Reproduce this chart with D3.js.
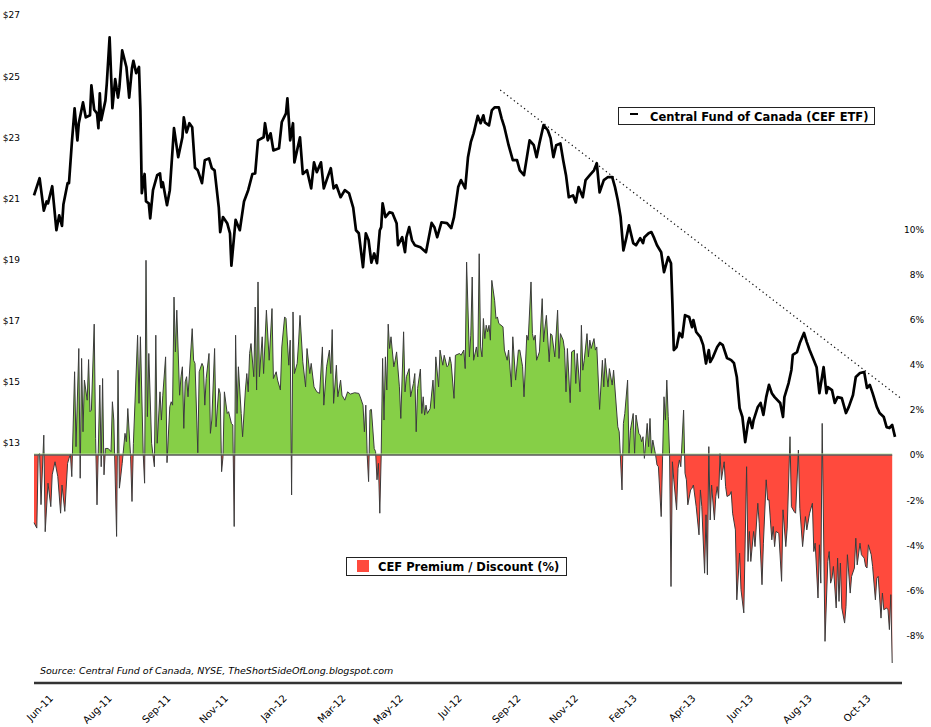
<!DOCTYPE html>
<html><head><meta charset="utf-8">
<script src="https://cdn.jsdelivr.net/npm/d3@7"></script>
<style>
html,body{margin:0;padding:0;background:#fff;}
svg{display:block;}
text{font-family:"DejaVu Sans",Verdana,sans-serif;fill:#000;}
</style></head><body>
<svg id="chart" width="931" height="727"></svg>
<script>
// ---- data (trading-day index since start of series) ----
const priceDays = [0,4,7,9,10,13,16,18,20,21,24,25,27,29,31,32,35,37,40,41,43,45,46,47,48,51,52,54,56,58,60,61,63,66,68,70,71,73,75,76,77,79,80,82,83,85,88,90,91,92,95,97,100,103,106,107,109,111,113,115,117,120,122,125,127,129,132,133,135,138,140,141,144,147,150,153,156,158,160,164,165,167,169,171,175,177,180,181,183,185,186,190,192,195,198,200,202,205,207,209,212,214,216,219,222,225,228,230,232,235,237,239,241,243,245,247,248,249,251,254,256,259,260,263,265,266,268,270,272,276,280,284,286,288,291,295,298,300,303,305,308,310,312,314,317,319,321,322,325,327,329,332,334,336,339,342,345,347,350,354,357,359,361,364,367,369,371,373,376,378,380,382,385,387,389,392,394,397,400,402,404,407,410,413,415,417,419,421,423,425,428,430,433,435,436,439,441,443,445,448,450,452,453,455,456,457,459,461,463,465,468,470,471,473,476,478,480,482,483,485,488,490,492,495,498,500,502,504,506,508,510,511,513,514,517,519,521,523,525,527,529,533,535,536,539,541,542,545,547,550,552,554,557,559,561,564,566,567,570,572,574,577,580,582,585,587,590,593,595,597,599,602,604,607,609,611,613,615];
const priceValues = [21.1,21.66,20.6,20.9,20.84,21.4,19.96,20.45,20.1,20.8,21.5,21.5,22.8,23.95,22.9,23.46,24.14,23.65,23.72,24.7,23.9,23.78,23.3,24.44,23.56,24.2,24.76,26.27,23.95,24.9,24.3,24.63,25.84,25.3,24.3,25.27,25.5,25.1,25.3,23.9,21.17,21.8,20.9,20.84,20.35,21.27,21.76,21.82,21.37,21.53,20.78,21.27,23.3,22.35,23.0,23.65,23.16,23.46,23.33,22.0,21.92,21.5,22.25,22.31,21.99,21.92,20.7,19.9,20.39,20.19,19.86,18.8,20.3,19.96,20.9,21.27,21.8,21.82,22.9,23.0,23.46,22.9,23.13,22.57,22.64,23.5,23.78,24.27,22.9,23.46,22.18,23.0,21.8,21.92,21.33,22.18,21.86,22.18,21.33,21.6,21.99,21.33,21.43,21.04,21.27,21.17,20.7,19.96,19.86,18.75,19.86,19.63,18.9,19.2,18.88,19.96,20.06,20.84,20.39,20.55,20.52,20.19,19.47,19.73,19.24,19.73,20.06,19.63,19.47,19.4,19.24,20.2,20.06,19.73,20.22,20.19,20.03,20.39,21.37,21.6,21.33,22.35,22.84,23.13,23.7,23.46,23.72,23.49,23.39,23.88,23.98,23.98,23.62,23.33,22.74,22.25,22.25,21.92,21.76,22.9,22.74,22.35,22.8,23.4,23.23,22.97,22.35,22.74,22.8,22.25,21.76,21.04,21.1,20.87,21.37,21.04,21.6,21.76,21.92,22.15,21.2,21.6,21.7,21.7,21.37,20.94,20.39,19.3,19.69,20.12,19.54,19.47,19.7,19.54,19.73,19.86,19.9,19.7,19.47,19.24,18.59,18.92,19.08,18.88,17.58,16.04,16.14,16.6,16.46,17.18,17.12,16.79,17.02,16.63,16.46,16.2,15.6,16.04,15.65,15.81,16.14,16.27,16.2,15.78,15.71,15.61,15.16,14.14,13.85,13.03,13.65,13.82,13.49,13.75,14.18,14.31,13.92,14.5,14.9,14.63,14.5,14.31,13.85,14.5,14.96,15.39,15.88,15.97,16.27,16.6,16.3,16.04,15.71,15.48,14.63,15.48,14.63,14.83,14.73,14.31,14.5,14.47,13.98,14.18,14.57,15.16,15.29,15.32,14.8,14.9,14.63,14.18,13.98,13.85,13.52,13.49,13.59,13.2];

const premiumDays = [0,2,3,4,5,7,8,10,12,13,15,17,19,20,22,24,25,26,27,29,30,32,33,34,35,36,38,39,40,41,43,44,45,47,48,49,50,51,53,55,56,57,59,60,61,63,65,66,67,69,70,71,74,75,76,78,79,80,81,82,84,86,87,88,90,91,92,94,95,97,98,99,100,101,102,104,105,106,107,108,109,110,113,114,115,117,118,120,121,122,123,125,126,127,129,130,132,133,134,135,136,138,139,141,142,143,144,145,146,148,149,151,152,153,154,155,157,158,159,160,161,163,164,166,168,170,171,173,174,176,177,179,180,182,183,184,185,186,188,189,190,192,194,195,197,198,200,202,
204,206,207,209,211,212,213,214,216,217,219,220,222,224,226,229,232,233,235,236,237,238,239,240,241,243,244,245,246,247,248,249,250,251,252,253,254,255,257,258,259,261,262,264,265,266,268,269,271,272,273,274,276,277,278,279,280,281,283,285,286,287,289,290,292,293,295,296,297,298,300,301,304,305,307,308,309,311,312,313,314,316,317,318,319,320,321,322,323,324,325,326,327,329,330,331,332,335,336,338,339,341,342,344,346,347,349,350,352,353,355,356,357,358,359,361,363,364,365,366,368,369,370,372,374,375,376,378,379,380,381,383,384,386,387,388,390,391,392,393,395,396,397,398,400,401,402,404,406,407,408,410,411,413,414,417,418,
420,421,422,424,425,426,428,429,430,432,433,434,435,436,438,439,440,441,442,444,445,446,448,449,450,451,452,453,454,455,456,457,459,460,461,462,464,465,466,467,469,470,471,473,475,476,477,479,480,481,482,483,484,486,487,488,489,490,491,493,494,495,497,498,499,501,502,504,505,507,509,510,511,512,514,515,517,518,520,521,523,524,525,527,528,529,530,532,534,535,537,538,540,541,543,544,546,547,549,551,552,554,556,557,558,560,561,562,563,565,567,568,569,570,571,573,574,575,576,577,579,580,581,583,584,586,587,588,590,591,593,594,595,596,598,599,601,602,603,605,606,607,609,610,611,612,613];
const premiumValues = [-3.0,-3.24,0.0,0.07,-2.2,0.88,-3.4,-1.25,-2.29,-0.88,-0.3,-0.96,-2.58,-1.33,-2.5,-0.37,-0.15,0.04,-0.96,3.69,0.37,4.72,-1.03,4.28,1.03,3.32,2.43,4.23,1.92,1.99,5.8,0.74,-2.21,3.1,-0.52,3.39,-0.88,0.29,0.29,0.15,2.36,1.55,-3.61,3.76,-1.47,-0.37,0.96,0.59,2.06,-0.07,-2.06,0.52,5.31,2.29,5.24,0.07,-1.25,8.63,1.7,4.5,0.52,-0.52,5.31,0.52,2.8,1.55,2.65,4.35,-0.34,2.14,2.36,2.21,7.0,4.57,6.42,2.65,3.47,3.91,1.18,3.24,3.47,2.58,5.6,4.2,4.06,0.1,3.69,4.06,3.91,2.21,3.39,4.5,0.96,1.55,4.72,1.25,2.95,2.73,-0.74,-0.07,2.8,1.84,1.92,1.4,1.33,-3.17,5.31,1.84,3.91,1.84,0.81,2.88,3.61,2.8,4.5,4.94,3.47,6.56,2.88,7.67,3.47,5.24,3.61,6.42,4.2,6.49,3.39,3.69,3.32,2.88,4.79,6.12,6.05,3.98,5.09,-1.77,6.34,3.61,4.06,5.01,6.19,4.13,3.02,4.72,3.61,4.06,3.02,2.8,
2.73,4.79,2.21,3.91,4.65,3.61,5.56,2.29,3.98,2.58,3.32,2.65,2.43,2.8,2.7,2.76,2.73,2.58,2.21,1.03,2.21,0.0,-1.18,1.99,2.02,0.29,0.15,-1.1,-0.37,-2.58,0.0,4.28,1.55,4.35,2.88,5.8,4.72,5.24,3.91,4.2,4.57,3.02,1.62,5.46,2.8,3.47,3.83,2.58,3.17,3.61,1.03,2.95,3.81,1.84,2.58,1.77,2.21,1.84,2.06,3.32,2.06,4.35,3.02,4.65,3.98,4.42,3.91,3.98,4.35,4.06,2.51,4.42,4.5,4.42,4.65,3.83,8.55,4.35,5.31,7.89,4.2,4.79,4.35,8.92,4.79,4.35,6.05,5.16,5.75,5.46,5.75,5.09,7.74,6.86,6.05,6.12,5.83,5.68,4.65,4.2,4.65,3.02,5.24,3.32,4.65,4.65,3.91,2.58,5.31,5.09,7.67,5.38,5.09,5.31,4.2,4.57,6.93,5.01,5.68,6.19,4.13,5.38,5.31,4.35,6.42,4.28,5.38,5.09,4.65,2.8,4.72,2.32,4.57,4.65,3.17,4.5,2.8,5.75,3.76,4.2,5.38,4.35,5.09,4.72,5.16,4.65,4.79,2.02,4.2,3.02,4.28,3.02,3.83,3.1,3.76,1.25,1.03,
-1.55,1.4,1.84,3.32,0.07,1.1,1.84,0.07,1.77,0.96,0.88,0.59,0.81,-0.15,1.4,0.37,1.62,0.07,0.66,0.0,-0.44,-0.52,-2.73,-0.07,2.58,1.55,3.32,1.7,0.0,-5.83,-0.3,-1.1,-2.43,-0.59,-0.22,-0.52,1.99,-0.81,-1.1,-2.21,-1.55,-1.47,-1.33,-2.29,-3.54,-1.55,-2.29,-5.24,-2.65,-5.31,0.37,-2.88,-1.33,-2.88,-1.84,-1.4,-1.92,0.07,-1.1,-0.3,-1.4,-1.84,-1.77,-1.62,-2.58,-3.32,-6.42,-4.35,-5.97,-7.0,-0.52,-4.72,-3.39,-4.72,-3.39,-4.06,-2.14,-3.02,-5.75,-3.91,-1.1,-1.99,-1.99,-3.76,-3.17,-4.06,-3.39,-3.47,-5.6,-2.43,-4.06,-3.24,0.81,-2.29,-2.51,-2.58,0.22,-2.36,-4.06,-2.73,-3.32,-2.58,-2.14,-4.28,-3.91,-6.34,-3.98,-5.68,1.4,-8.26,-4.72,-4.28,-5.68,-5.46,-4.94,-6.78,-4.57,-6.49,-4.79,-6.78,-7.45,-6.71,-4.42,-6.12,-5.38,-5.01,-3.69,-4.87,-3.91,-4.42,-4.57,-4.94,-5.01,-3.98,-4.42,-4.94,-6.42,-5.46,-5.38,-7.23,-6.12,-6.86,-6.78,-6.86,-7.74,-6.19,-9.22];

const xTickDays = [8,50,92,133,175,217,258,300,342,383,425,467,508,550,592];
const xTickLabels = ["Jun-11","Aug-11","Sep-11","Nov-11","Jan-12","Mar-12","May-12","Jul-12","Sep-12","Nov-12","Feb-13","Apr-13","Jun-13","Aug-13","Oct-13"];
const priceTicks = [13,15,17,19,21,23,25,27];
const premiumTicks = [-8,-6,-4,-2,0,2,4,6,8,10];
const trendDays = [333,619];
const trendValues = [24.55,14.47];

const priceLabel = "Central Fund of Canada (CEF ETF)";
const premiumLabel = "CEF Premium / Discount (%)";
const sourceText = "Source: Central Fund of Canada, NYSE, TheShortSideOfLong.blogspot.com";

// ---- build ----
const svg = d3.select("#chart");
const x = d3.scaleLinear().domain([0,615]).range([34,895]);
const yP = d3.scaleLinear().domain([13,27]).range([443,15]);
const yR = d3.scaleLinear().domain([-10,10]).range([680.6,229.4]);

const price = priceDays.map((d,i)=>({d, v:priceValues[i]}));
const prem = premiumDays.map((d,i)=>({d, v:premiumValues[i]}));

const defs = svg.append("defs");
defs.append("clipPath").attr("id","above").append("rect")
  .attr("x",0).attr("y",0).attr("width",931).attr("height",yR(0));
defs.append("clipPath").attr("id","below").append("rect")
  .attr("x",0).attr("y",yR(0)).attr("width",931).attr("height",727-yR(0));

const area = d3.area().x(p=>x(p.d)).y0(yR(0)).y1(p=>yR(p.v));
svg.append("path").datum(prem).attr("d",area).attr("fill","#86cf47").attr("clip-path","url(#above)");
svg.append("path").datum(prem).attr("d",area).attr("fill","#ff4a3d").attr("clip-path","url(#below)");
svg.append("path").datum(prem)
  .attr("d",d3.line().x(p=>x(p.d)).y(p=>yR(p.v)))
  .attr("fill","none").attr("stroke","#3b3b3b").attr("stroke-width",1).attr("stroke-linejoin","round");

// zero line
svg.append("line").attr("x1",x(0)).attr("x2",x(premiumDays[premiumDays.length-1]))
  .attr("y1",yR(0)-1).attr("y2",yR(0)-1).attr("stroke","#b9e39a").attr("stroke-width",1);
svg.append("line").attr("x1",x(0)).attr("x2",x(premiumDays[premiumDays.length-1]))
  .attr("y1",yR(0)).attr("y2",yR(0)).attr("stroke","#5a5a5a").attr("stroke-width",1.3);

// trend line
svg.append("line")
  .attr("x1",x(trendDays[0])).attr("y1",yP(trendValues[0]))
  .attr("x2",x(trendDays[1])).attr("y2",yP(trendValues[1]))
  .attr("stroke","#111").attr("stroke-width",1.2).attr("stroke-dasharray","1.3,3");

// price line
svg.append("path").datum(price)
  .attr("d",d3.line().x(p=>x(p.d)).y(p=>yP(p.v)))
  .attr("fill","none").attr("stroke","#000").attr("stroke-width",2.7).attr("stroke-linejoin","round");

// axes
const gL = svg.append("g").attr("transform","translate(20,0)")
  .call(d3.axisLeft(yP).tickValues(priceTicks).tickSize(0).tickPadding(0).tickFormat(d=>"$"+d));
const gR = svg.append("g").attr("transform","translate(924,0)")
  .call(d3.axisLeft(yR).tickValues(premiumTicks).tickSize(0).tickPadding(0).tickFormat(d=>d+"%"));
[gL,gR].forEach(g=>{
  g.select(".domain").remove();
  g.selectAll("text").attr("font-family","DejaVu Sans").attr("font-size",9).attr("fill","#000");
});

// bottom rule
svg.append("line").attr("x1",34).attr("x2",902).attr("y1",683).attr("y2",683)
  .attr("stroke","#333").attr("stroke-width",2.5);

const gX = svg.append("g").attr("transform","translate(0,694)")
  .call(d3.axisBottom(x).tickValues(xTickDays).tickSize(0).tickPadding(0)
    .tickFormat((d,i)=>xTickLabels[i]));
gX.select(".domain").remove();
gX.selectAll("text").attr("font-family","DejaVu Sans").attr("font-size",10).attr("fill","#000")
  .attr("text-anchor","end").attr("y",0).attr("dy","0.7em")
  .attr("transform","translate(3,0) rotate(-45)");

// source
svg.append("text").attr("x",40).attr("y",674).attr("font-size",9.5)
  .attr("font-style","italic").text(sourceText);

// legends
const lg1 = svg.append("g");
lg1.append("rect").attr("x",618.5).attr("y",107.5).attr("width",256).attr("height",17)
  .attr("fill","#fff").attr("stroke","#222").attr("stroke-width",1);
lg1.append("line").attr("x1",630).attr("x2",638).attr("y1",114).attr("y2",114)
  .attr("stroke","#000").attr("stroke-width",2);
lg1.append("text").attr("x",650).attr("y",120.5).attr("font-size",11.5).attr("font-weight","bold").text(priceLabel);

const lg2 = svg.append("g");
lg2.append("rect").attr("x",346.5).attr("y",557.5).attr("width",220).attr("height",18)
  .attr("fill","#fff").attr("stroke","#222").attr("stroke-width",1);
lg2.append("rect").attr("x",357).attr("y",560).attr("width",12).attr("height",12)
  .attr("fill","#ff4a3d");
lg2.append("text").attr("x",378).attr("y",570.5).attr("font-size",11.5).attr("font-weight","bold").text(premiumLabel);
</script>
</body></html>
